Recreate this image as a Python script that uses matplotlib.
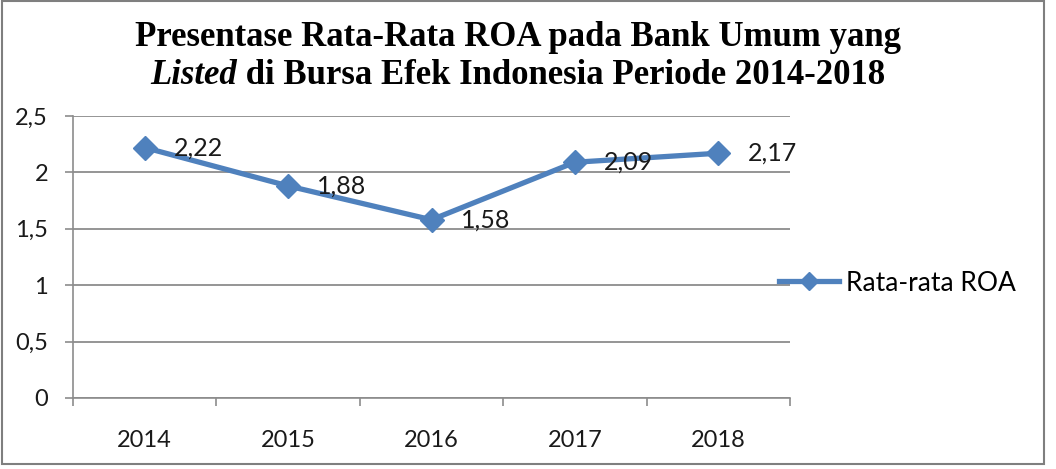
import matplotlib
matplotlib.use("Agg")
import matplotlib.pyplot as plt
import numpy as np

# data
years = ["2014", "2015", "2016", "2017", "2018"]
roa = [2.22, 1.88, 1.58, 2.09, 2.17]
roa_labels = ["2,22", "1,88", "1,58", "2,09", "2,17"]
yticks = [0, 0.5, 1, 1.5, 2, 2.5]
ytick_labels = ["0", "0,5", "1", "1,5", "2", "2,5"]

W, H = 1056, 469
fig = plt.figure(figsize=(W / 100, H / 100), dpi=100)
sans = ["Lato", "DejaVu Sans"]
serif = ["Liberation Serif", "DejaVu Serif"]
blue = "#4F81BD"
grid_c = "#8C8C8C"

# outer border of the chart area
fig.patches.append(plt.Rectangle((2 / W, 1 - 464 / H), 1042 / W, 464 / H - 0.002,
                                 transform=fig.transFigure, fill=False,
                                 edgecolor="#7F7F7F", lw=1.5))

ax = fig.add_axes([73 / W, 1 - 398 / H, (790 - 73) / W, (398 - 116) / H])
x = np.arange(len(years))
line, = ax.plot(x, roa, color=blue, lw=3.8, marker="D", ms=12,
                markeredgecolor=blue, label="Rata-rata ROA", zorder=3)

for xi, yi, lab in zip(x, roa, roa_labels):
    ax.annotate(lab, (xi, yi), xytext=(21, 0), textcoords="offset points",
                ha="left", va="center", fontsize=18, family=sans, color="#1a1a1a")

ax.set_xlim(-0.5, len(years) - 0.5)
ax.set_ylim(0, 2.5)
ax.set_yticks(yticks)
ax.set_yticklabels(ytick_labels)
ax.set_xticks(x)
ax.set_xticklabels(years)
ax.set_xticks(np.arange(-0.5, len(years)), minor=True)
ax.tick_params(axis="x", which="major", length=0, pad=23, labelsize=17)
ax.tick_params(axis="x", which="minor", length=6, color=grid_c, width=1.2)
ax.tick_params(axis="y", length=6, color=grid_c, width=1.2, pad=12, labelsize=17)
for lab in ax.get_xticklabels() + ax.get_yticklabels():
    lab.set_family(sans)
    lab.set_color("#1a1a1a")

ax.grid(axis="y", color=grid_c, lw=1.3)
ax.set_axisbelow(True)
for s in ["top", "right"]:
    ax.spines[s].set_visible(False)
ax.spines["left"].set_color(grid_c)
ax.spines["bottom"].set_color(grid_c)
ax.spines["left"].set_linewidth(1.2)
ax.spines["bottom"].set_linewidth(1.2)

leg = fig.legend(handles=[line], loc="center left", bbox_to_anchor=(768 / W, 1 - 283 / H),
                 frameon=False, handlelength=2.3, handletextpad=0.25, borderaxespad=0,
                 markerscale=0.75, prop={"family": sans, "size": 19})

# title, two lines, "Listed" in italic
tsize = 25
fig.text(518 / W, 1 - 38 / H, "Presentase Rata-Rata ROA pada Bank Umum yang",
         ha="center", va="center", fontsize=tsize, fontweight="bold", family=serif)
renderer = fig.canvas.get_renderer()
t_it = fig.text(0, 1 - 75 / H, "Listed", ha="left", va="center", fontsize=tsize,
                fontweight="bold", fontstyle="italic", family=serif)
t_rest = fig.text(0, 1 - 75 / H, " di Bursa Efek Indonesia Periode 2014-2018", ha="left",
                  va="center", fontsize=tsize, fontweight="bold", family=serif)
w1 = t_it.get_window_extent(renderer).width
w2 = t_rest.get_window_extent(renderer).width
x0 = 518 - (w1 + w2) / 2
t_it.set_x(x0 / W)
t_rest.set_x((x0 + w1) / W)

fig.savefig("out.png", dpi=100)
